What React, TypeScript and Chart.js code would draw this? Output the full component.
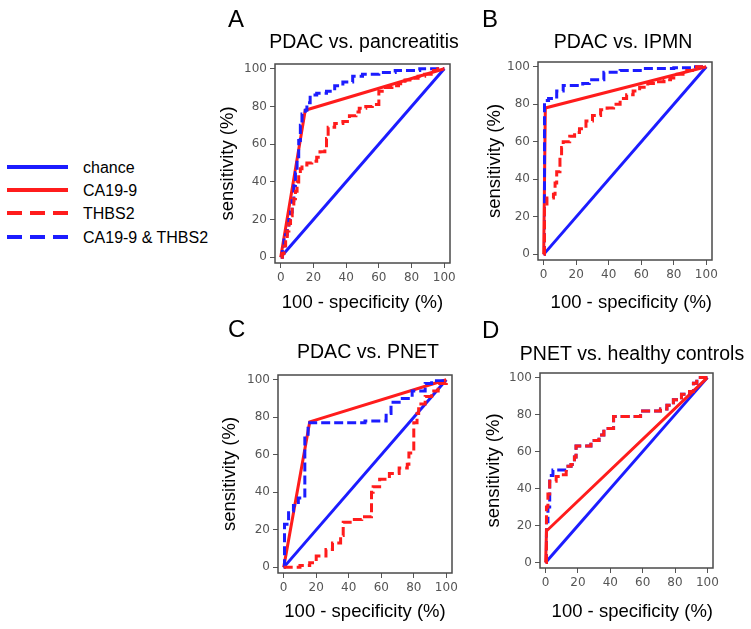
import React, { useEffect, useRef } from 'react';
import { Chart, registerables } from 'chart.js';

Chart.register(...registerables);

// ---------- data ----------
const TICK_VALUES = [0, 20, 40, 60, 80, 100];
const SERIES_NAMES = ['chance', 'CA19-9', 'THBS2', 'CA19-9 & THBS2'];
const PANEL_LETTERS = ['A', 'B', 'C', 'D'];
const PANEL_TITLES = ['PDAC vs. pancreatitis', 'PDAC vs. IPMN', 'PDAC vs. PNET', 'PNET vs. healthy controls'];
const X_TITLE = '100 - specificity (%)';
const Y_TITLE = 'sensitivity (%)';

const chance: number[][] = [[0, 0], [100, 100]];

// Panel A: PDAC vs. pancreatitis
const caA = [[0, 0], [15, 78], [100, 100]];
const thbsA = [[0, 0], [1, 2], [2, 6], [3, 10], [4, 14], [5, 18], [6, 22], [7, 27], [8, 31], [9, 35], [10, 40], [11, 44], [12, 47], [13, 49], [16, 50], [19, 51], [22, 53], [24, 56], [27, 58], [28, 63], [29, 69], [33, 71], [38, 72], [42, 75], [46, 77], [48, 79], [52, 80], [56, 81], [60, 82], [60, 88], [63, 90], [68, 91], [72, 92], [76, 94], [80, 95], [84, 96], [88, 97], [92, 99], [96, 100], [100, 100]];
const comboA = [[0, 0], [1, 4], [2, 12], [4, 16], [5, 20], [6, 24], [7, 30], [8, 38], [9, 45], [10, 52], [11, 62], [12, 70], [13, 76], [15, 78], [16, 82], [18, 86], [22, 87], [28, 88], [33, 91], [38, 93], [44, 96], [50, 97], [60, 98], [70, 99], [85, 100], [100, 100]];

// Panel B: PDAC vs. IPMN
const caB = [[0, 0], [1, 78], [100, 100]];
const thbsB = [[0, 0], [0.5, 25], [2, 30], [6, 32], [7, 38], [8, 44], [10, 52], [11, 57], [12, 60], [16, 63], [19, 65], [22, 67], [26, 71], [30, 74], [35, 77], [39, 78], [43, 80], [47, 83], [51, 85], [55, 87], [59, 89], [64, 91], [69, 92], [74, 93], [78, 94], [82, 96], [88, 98], [94, 100], [100, 100]];
const comboB = [[0, 0], [0.5, 82], [3, 83], [8, 87], [12, 90], [16, 90], [24, 91], [28, 93], [37, 97], [47, 98], [61, 99], [80, 99.5], [92, 100], [100, 100]];

// Panel C: PDAC vs. PNET
const caC = [[0, 0], [16, 77.5], [100, 100]];
const thbsC = [[0, 0], [4, 0], [10, 1], [16, 2.5], [20, 6], [26, 9.5], [30, 13], [35, 17], [36.6, 24], [42, 25.5], [48, 27], [54, 29], [54, 40], [55, 43], [59, 47], [65, 50], [71, 53], [76, 55], [77, 61], [80, 77], [82, 82], [83, 87], [87, 91], [91, 94], [95, 98], [100, 100]];
const comboC = [[0, 0], [0.5, 23], [3, 30], [6, 33], [9, 37], [13, 70], [15, 77], [50, 78], [63, 82], [66, 88], [71, 90], [79, 94], [87, 98], [91, 99.5], [100, 100]];

// Panel D: PNET vs. healthy controls
const caD = [[0, 0], [0.5, 17], [100, 100]];
const thbsD = [[0, 0], [0.5, 30], [1.4, 37], [2.5, 44], [5.5, 44], [6.5, 46.5], [9.6, 47.5], [12.7, 52], [15.7, 53], [17.8, 57], [18.8, 63], [25, 63], [28, 66], [33, 69], [36, 72.5], [42, 79], [54, 79], [58.7, 82], [71, 83], [75, 85], [79, 88], [84, 91], [89, 92.5], [91.4, 97], [93.5, 100], [100, 100]];
const comboD = [[0, 0], [0.5, 22], [1.4, 30], [2.5, 47], [4.5, 50], [12, 50], [12.7, 52], [15.7, 53], [17.8, 57], [18.8, 63], [25, 63], [28, 66], [33, 69], [36, 72.5], [42, 79], [54, 79], [58.7, 82], [71, 83], [75, 85], [79, 88], [84, 91], [89, 92.5], [91.4, 97], [93.5, 100], [100, 100]];

const PANEL_SERIES = [
  { ca: caA, thbs: thbsA, combo: comboA },
  { ca: caB, thbs: thbsB, combo: comboB },
  { ca: caC, thbs: thbsC, combo: comboC },
  { ca: caD, thbs: thbsD, combo: comboD },
];

// ---------- layout / style ----------
const BLUE = '#1c1cff';
const RED = '#ff1c1c';
const DASH = [9, 4];
const TITLE_FONT = 'Liberation Sans';
const TICK_FONT = 'DejaVu Sans';
const AXIS_TITLE_SIZE = 18.5;
const PANEL_TITLE_SIZE = 19.5;

// page coordinates of each panel's plot box and texts
const LAYOUT = [
  { box: [275, 64, 450, 263], canvasTop: 0, letter: [228, 27], title: [364, 43], xTitleOff: 40, xAlign: 'center', yTitleOff: 47 },
  { box: [538, 62, 712, 260], canvasTop: 0, letter: [482, 27], title: [623, 43], xTitleOff: 43, xAlign: 'end', yTitleOff: 43 },
  { box: [278, 375, 452, 573], canvasTop: 312, letter: [228, 337], title: [368, 353], xTitleOff: 39, xAlign: 'center', yTitleOff: 48 },
  { box: [540, 373, 713, 568], canvasTop: 312, letter: [482, 338], title: [632, 355], xTitleOff: 44, xAlign: 'end', yTitleOff: 46 },
];
const Y_AXIS_W = 68;
const X_AXIS_H = 56;
const PAD_RIGHT = 37;

const decorPlugin = {
  id: 'panelDecor',
  afterDraw(chart: any, _args: any, opts: any) {
    const { ctx, chartArea: a } = chart;
    ctx.save();
    ctx.strokeStyle = '#4a4a4a';
    ctx.lineWidth = 1.5;
    ctx.strokeRect(a.left, a.top, a.right - a.left, a.bottom - a.top);
    ctx.fillStyle = '#000';
    ctx.textAlign = 'left';
    ctx.textBaseline = 'alphabetic';
    ctx.font = `24px "${TITLE_FONT}"`;
    ctx.fillText(opts.letter, opts.letterX, opts.letterY);
    ctx.textAlign = 'center';
    ctx.textBaseline = 'middle';
    ctx.font = `${PANEL_TITLE_SIZE}px "${TITLE_FONT}"`;
    ctx.fillText(opts.title, opts.titleX, opts.titleY);
    ctx.restore();
  },
};

const toXY = (arr: number[][]) => arr.map(([x, y]) => ({ x, y }));

function Panel({ index }: { index: number }) {
  const ref = useRef<HTMLCanvasElement>(null);
  const L = LAYOUT[index];
  const [bl, bt, br, bb] = L.box;
  const left = bl - Y_AXIS_W;
  const top = L.canvasTop;
  const padTop = bt - top;
  const width = Y_AXIS_W + (br - bl) + PAD_RIGHT;
  const height = padTop + (bb - bt) + X_AXIS_H;
  const half = (AXIS_TITLE_SIZE * 1.2) / 2;

  useEffect(() => {
    const s = PANEL_SERIES[index];
    const lineBase = { showLine: true, pointRadius: 0, pointHoverRadius: 0, borderWidth: 3, fill: false };
    const chart = new Chart(ref.current as HTMLCanvasElement, {
      type: 'scatter',
      data: {
        datasets: [
          { ...lineBase, label: SERIES_NAMES[0], data: toXY(chance), borderColor: BLUE, order: 3 },
          { ...lineBase, label: SERIES_NAMES[1], data: toXY(s.ca), borderColor: RED, order: 2 },
          { ...lineBase, label: SERIES_NAMES[2], data: toXY(s.thbs), borderColor: RED, borderDash: DASH, stepped: 'before', order: 0 },
          { ...lineBase, label: SERIES_NAMES[3], data: toXY(s.combo), borderColor: BLUE, borderDash: DASH, stepped: 'before', order: 1 },
        ] as any,
      },
      options: {
        animation: false,
        responsive: false,
        devicePixelRatio: 1,
        events: [],
        layout: { padding: { top: padTop, left: 0, right: PAD_RIGHT, bottom: 0 } },
        plugins: {
          legend: { display: false },
          tooltip: { enabled: false },
          title: { display: false },
          panelDecor: {
            letter: PANEL_LETTERS[index],
            title: PANEL_TITLES[index],
            letterX: L.letter[0] - left,
            letterY: L.letter[1] - top,
            titleX: L.title[0] - left,
            titleY: L.title[1] - top,
          },
        } as any,
        scales: {
          x: {
            type: 'linear',
            min: -3.5,
            max: 103.5,
            afterBuildTicks: (sc: any) => { sc.ticks = TICK_VALUES.map((v) => ({ value: v })); },
            afterFit: (sc: any) => { sc.height = X_AXIS_H; },
            grid: { display: true, drawOnChartArea: false, tickLength: 5, tickColor: '#555', color: '#555', tickWidth: 1 },
            border: { display: false },
            ticks: { color: '#555', font: { family: TICK_FONT, size: 12 }, padding: 3, maxRotation: 0 },
            title: {
              display: true, text: X_TITLE, color: '#000', align: L.xAlign as any,
              font: { family: TITLE_FONT, size: AXIS_TITLE_SIZE },
              padding: { top: 0, bottom: X_AXIS_H - L.xTitleOff - half },
            },
          },
          y: {
            type: 'linear',
            min: -3,
            max: 102.5,
            afterBuildTicks: (sc: any) => { sc.ticks = TICK_VALUES.map((v) => ({ value: v })); },
            afterFit: (sc: any) => { sc.width = Y_AXIS_W; },
            grid: { display: true, drawOnChartArea: false, tickLength: 5, tickColor: '#555', color: '#555', tickWidth: 1 },
            border: { display: false },
            ticks: { color: '#555', font: { family: TICK_FONT, size: 12 }, padding: 3 },
            title: {
              display: true, text: Y_TITLE, color: '#000',
              font: { family: TITLE_FONT, size: AXIS_TITLE_SIZE },
              padding: { top: Y_AXIS_W - L.yTitleOff - half, bottom: 0 },
            },
          },
        },
      } as any,
      plugins: [decorPlugin as any],
    });
    return () => chart.destroy();
  }, [index]);

  return (
    <canvas
      ref={ref}
      width={width}
      height={height}
      style={{ position: 'absolute', left, top, width, height }}
    />
  );
}

const LEGEND_Y = [167, 190, 213, 237];
const LEGEND_COLORS = [BLUE, RED, RED, BLUE];
const LEGEND_DASHED = [false, false, true, true];

function Legend() {
  return (
    <svg width={230} height={260} style={{ position: 'absolute', left: 0, top: 0 }}>
      {SERIES_NAMES.map((name, i) => (
        <g key={name}>
          <line
            x1={7} x2={68} y1={LEGEND_Y[i]} y2={LEGEND_Y[i]}
            stroke={LEGEND_COLORS[i]} strokeWidth={4}
            strokeDasharray={LEGEND_DASHED[i] ? '15 8' : undefined}
          />
          <text x={83} y={LEGEND_Y[i]} dominantBaseline="central" fontFamily={TITLE_FONT} fontSize={16} fill="#000">
            {name}
          </text>
        </g>
      ))}
    </svg>
  );
}

export default function App() {
  return (
    <div style={{ position: 'absolute', left: 0, top: 0, width: 751, height: 629, background: '#fff', overflow: 'hidden' }}>
      <Legend />
      {[0, 1, 2, 3].map((i) => (
        <Panel key={i} index={i} />
      ))}
    </div>
  );
}
